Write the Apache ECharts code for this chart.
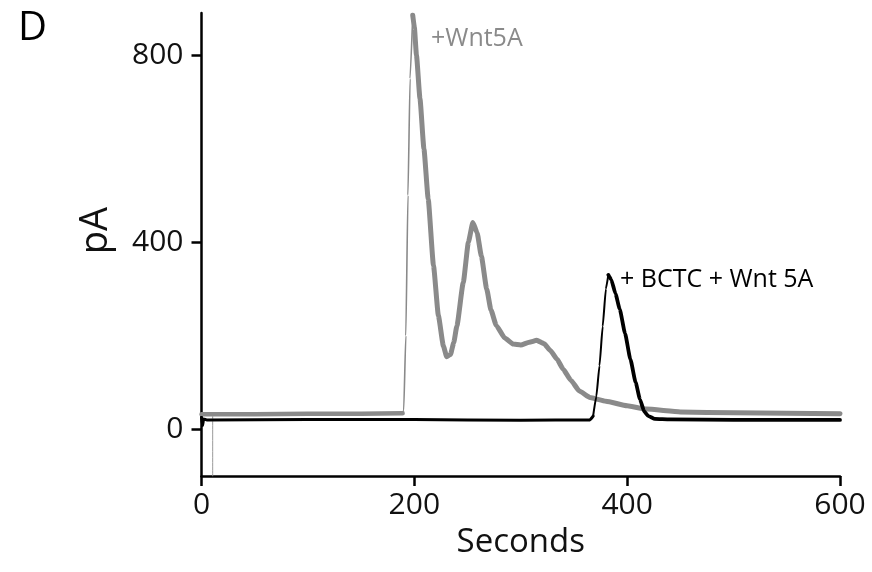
<!DOCTYPE html>
<html>
<head>
<meta charset="utf-8">
<script src="https://cdn.jsdelivr.net/npm/echarts@6/dist/echarts.min.js"></script>
<style>
html,body{margin:0;padding:0;background:#fff;}
#chart{width:872px;height:572px;}
</style>
</head>
<body>
<div id="chart"></div>
<script>
// X tick values (seconds) and Y tick values (pA)
const xTicks = [0, 200, 400, 600];
const yTicks = [0, 400, 800];

// Trace with +Wnt5A (gray): seconds / pA
const wnt5aTime = [0, 50, 100, 150, 189, 190, 192, 194, 196, 198.5, 200, 202, 205.3, 209, 213, 218, 222.6, 227.3, 230.4, 234, 237, 240, 246, 250.8, 255, 259, 263, 268, 272, 277, 285, 293, 300, 308, 315, 322, 328, 334, 340, 347, 355, 365, 380, 400, 418, 450, 500, 550, 600];
const wnt5aValue = [32, 32, 33, 33, 34, 40, 200, 500, 750, 885, 860, 800, 707, 600, 493, 350, 243, 178, 155, 160, 185, 221, 314, 400, 442, 420, 370, 300, 255, 222, 195, 182, 180, 186, 190, 183, 168, 150, 128, 105, 82, 68, 60, 50, 43, 37, 35, 34, 33];

// Artifact line of the gray trace near the start
const artifactTime = [10.5, 10.5];
const artifactValue = [28, -100];

// Trace with + BCTC + Wnt 5A (black): seconds / pA
const bctcTime = [0, 1, 2, 5, 100, 200, 300, 365, 368, 371, 374, 377, 380, 382.3, 385, 389, 393, 398, 403, 408, 412, 416, 420, 426, 440, 500, 600];
const bctcValue = [25, 8, 22, 20, 21, 21, 19, 20, 28, 70, 136, 220, 300, 330, 320, 290, 257, 205, 150, 100, 64, 38, 28, 22, 21, 20, 20];

const zip = (a, b) => a.map((v, i) => [v, b[i]]);
const peakIndex = arr => arr.indexOf(Math.max(...arr));
const riseStart = (arr, p) => { let i = p; while (i > 0 && arr[i - 1] > arr[0] + 5) i--; return Math.max(0, i - 1); };

const wData = zip(wnt5aTime, wnt5aValue);
const wPeak = peakIndex(wnt5aValue);
const wRise = riseStart(wnt5aValue, wPeak);
const bData = zip(bctcTime, bctcValue);
const bPeak = peakIndex(bctcValue);
const bRise = riseStart(bctcValue, bPeak);

const FONT = 'Open Sans';
const GRAY = '#8a8a8a';
const chart = echarts.init(document.getElementById('chart'));
const lineSeries = (data, color, width, z) => ({
  type: 'line', data, symbol: 'none', smooth: 0.15, smoothMonotone: 'x',
  lineStyle: { color, width, join: 'round', cap: 'round' }, z
});
chart.setOption({
  animation: false,
  backgroundColor: '#ffffff',
  grid: { left: 201.5, right: 32, top: 13, bottom: 96, containLabel: false },
  xAxis: {
    type: 'value', min: 0, max: 600, interval: 200,
    name: 'Seconds', nameLocation: 'middle', nameGap: 50,
    nameTextStyle: { fontFamily: FONT, fontSize: 33, color: '#111' },
    axisLine: { onZero: false, lineStyle: { color: '#000', width: 2.5 } },
    axisTick: { show: true, length: 10, lineStyle: { color: '#000', width: 2.5 } },
    axisLabel: { fontFamily: FONT, fontSize: 30, color: '#111', margin: 14 },
    splitLine: { show: false }
  },
  yAxis: {
    type: 'value', min: -100, max: 890,
    name: 'pA', nameLocation: 'middle', nameGap: 86,
    nameTextStyle: { fontFamily: FONT, fontSize: 38, color: '#111', padding: [0, 0, 0, 28] },
    axisLine: { onZero: false, lineStyle: { color: '#000', width: 2.5 } },
    axisTick: { show: true, length: 10, customValues: yTicks, lineStyle: { color: '#000', width: 2.5 } },
    axisLabel: { fontFamily: FONT, fontSize: 30, color: '#111', margin: 18, customValues: yTicks },
    splitLine: { show: false }
  },
  series: [
    lineSeries(zip(artifactTime, artifactValue), '#9a9a9a', 1, 1),
    lineSeries(wData.slice(0, wRise + 1), GRAY, 4.5, 2),
    lineSeries(wData.slice(wRise, wPeak + 1), GRAY, 1.6, 2),
    lineSeries(wData.slice(wPeak), GRAY, 5, 2),
    lineSeries(bData.slice(0, bRise + 1), '#000', 3, 3),
    lineSeries(bData.slice(bRise, bPeak + 1), '#000', 2, 3),
    lineSeries(bData.slice(bPeak), '#000', 3.8, 3)
  ],
  graphic: [
    { type: 'text', left: 18, top: 9, style: { text: 'D', fontFamily: FONT, fontSize: 40, fill: '#000' } },
    { type: 'text', left: 431, top: 26, style: { text: '+Wnt5A', fontFamily: FONT, fontSize: 25, fill: GRAY } },
    { type: 'text', left: 620, top: 267, style: { text: '+ BCTC + Wnt 5A', fontFamily: FONT, fontSize: 25, fill: '#000' } }
  ]
});
</script>
</body>
</html>
